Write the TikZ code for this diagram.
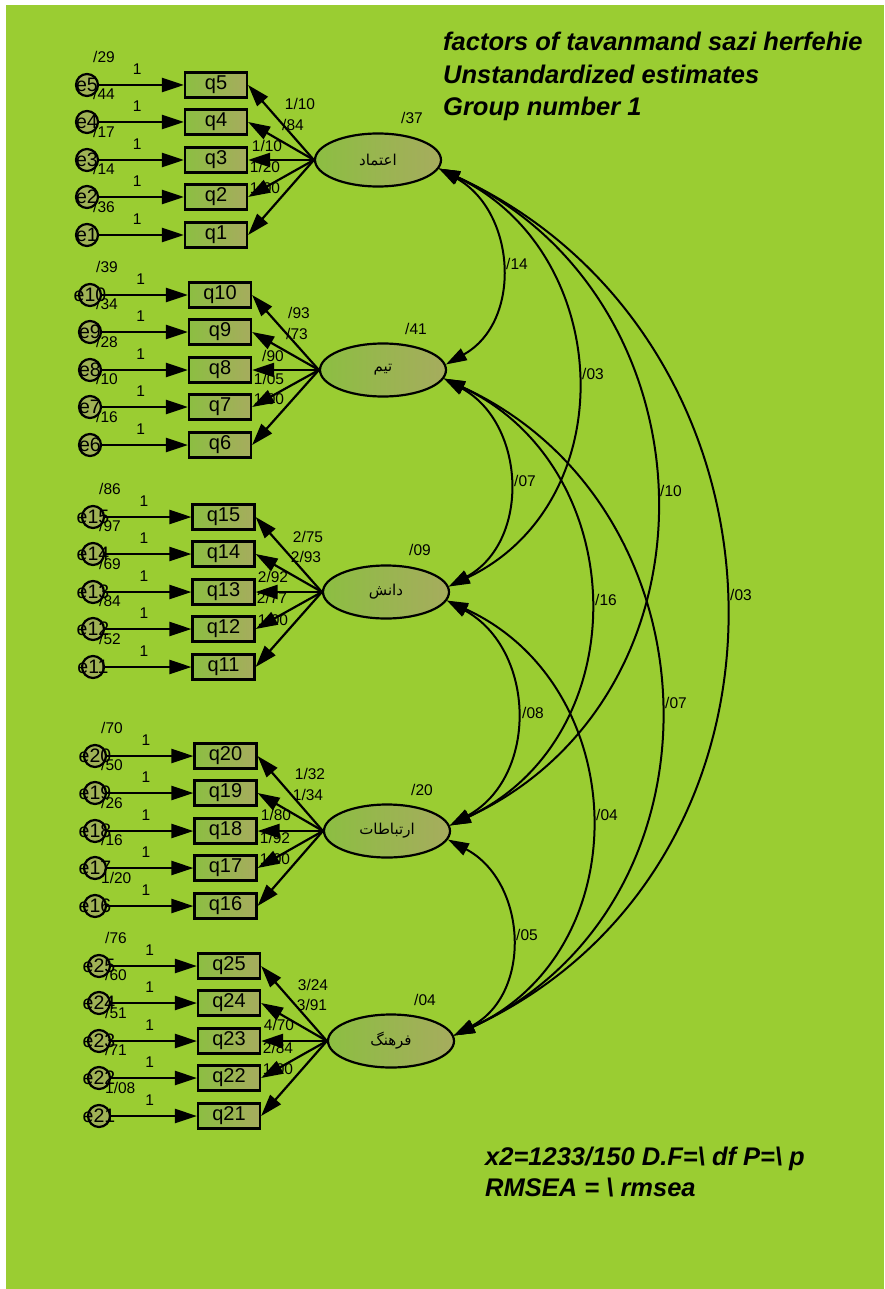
\documentclass[tikz,border=0pt]{standalone}
\usepackage{fontspec}
\setmainfont{Liberation Sans}
\newfontfamily\arfont[Script=Arabic]{DejaVu Sans}
\TeXXeTstate=1
\usetikzlibrary{arrows.meta,shapes.geometric}
\definecolor{bg}{RGB}{154,205,50}
\definecolor{boxL}{RGB}{140,190,66}
\definecolor{boxR}{RGB}{166,172,94}
\definecolor{errfill}{RGB}{160,178,86}
\newcommand{\artext}[1]{{\arfont\beginR #1\endR}}
% one observed item with its error term
% #1 factor node, #2 item number, #3 box x, #4 error x, #5 row y, #6 error variance
\newcommand{\indic}[6]{%
  \node[obs] (q#2) at (#3,#5) {q#2};
  \node[errc] (e#2) at (#4,#5) {};
  \node[etxt] (t#2) at (e#2.center) {e#2};
  \node[lbl,anchor=west] (s#2) at ([xshift=6pt,yshift=28pt]e#2.center) {#6};
  \draw[link] (e#2) -- node[lbl,pos=.45,above=9pt] (w#2) {1} (q#2);
  \draw[link] (#1.west) -- (q#2.east);
}
\begin{document}
\begin{tikzpicture}[x=1pt,y=-1pt,
  obs/.style={draw,rectangle,line width=2.2pt,minimum width=62pt,minimum height=25pt,
    inner sep=0,left color=boxL,right color=boxR,font=\fontsize{20}{21}\selectfont},
  fac/.style={draw,ellipse,line width=2.2pt,minimum width=126pt,minimum height=53pt,
    inner sep=0,left color=boxL,right color=boxR,font=\fontsize{15}{17}\selectfont},
  errc/.style={draw,circle,line width=2.2pt,minimum size=22pt,inner sep=0,fill=errfill},
  etxt/.style={inner sep=0,font=\fontsize{19.5}{21}\selectfont},
  lbl/.style={inner sep=0,font=\fontsize{15.5}{17}\selectfont},
  head/.style={inner sep=0,anchor=base west,font=\fontsize{25.5}{30}\selectfont\bfseries\itshape},
  link/.style={line width=2.2pt,-{Triangle[length=22pt,width=14pt]}},
  cov/.style={line width=2pt,{Triangle[length=21pt,width=13pt]}-{Triangle[length=21pt,width=13pt]}},
]
\useasboundingbox (0,0) rectangle (884,1289);
\fill[white] (0,0) rectangle (884,1289);
\fill[bg] (6,5) rectangle (884,1289);

% factors
\node[fac] (A) at (378,160) {\artext{اعتماد}};
\node[fac] (T) at (383,370) {\artext{تیم}};
\node[fac] (D) at (386,592) {\artext{دانش}};
\node[fac] (R) at (387,831) {\artext{ارتباطات}};
\node[fac] (F) at (391,1041) {\artext{فرهنگ}};
\node[lbl] (vA) at (412,118) {/37};
\node[lbl] (vT) at (416,329) {/41};
\node[lbl] (vD) at (420,550) {/09};
\node[lbl] (vR) at (422,790) {/20};
\node[lbl] (vF) at (425,1000) {/04};

% items of the first factor
\indic{A}{5}{216}{87}{85}{/29}
\indic{A}{4}{216}{87}{122}{/44}
\indic{A}{3}{216}{87}{160}{/17}
\indic{A}{2}{216}{87}{197}{/14}
\indic{A}{1}{216}{87}{235}{/36}
\node[lbl] (lA1) at (300,104) {1/10};
\node[lbl] (lA2) at (293,125) {/84};
\node[lbl] (lA3) at (267,146) {1/10};
\node[lbl] (lA4) at (265,167) {1/20};
\node[lbl] (lA5) at (265,188) {1/00};

% items of the second factor
\indic{T}{10}{220}{90}{295}{/39}
\indic{T}{9}{220}{90}{332}{/34}
\indic{T}{8}{220}{90}{370}{/28}
\indic{T}{7}{220}{90}{407}{/10}
\indic{T}{6}{220}{90}{445}{/16}
\node[lbl] (lT1) at (299,313) {/93};
\node[lbl] (lT2) at (297,334) {/73};
\node[lbl] (lT3) at (273,356) {/90};
\node[lbl] (lT4) at (269,379) {1/05};
\node[lbl] (lT5) at (269,399) {1/00};

% items of the third factor
\indic{D}{15}{223.5}{93}{517}{/86}
\indic{D}{14}{223.5}{93}{554}{/97}
\indic{D}{13}{223.5}{93}{592}{/69}
\indic{D}{12}{223.5}{93}{629}{/84}
\indic{D}{11}{223.5}{93}{667}{/52}
\node[lbl] (lD1) at (308,537) {2/75};
\node[lbl] (lD2) at (306,557) {2/93};
\node[lbl] (lD3) at (273,577) {2/92};
\node[lbl] (lD4) at (272,598) {2/77};
\node[lbl] (lD5) at (273,620) {1/00};

% items of the fourth factor
\indic{R}{20}{225.5}{95}{756}{/70}
\indic{R}{19}{225.5}{95}{793}{/50}
\indic{R}{18}{225.5}{95}{831}{/26}
\indic{R}{17}{225.5}{95}{868}{/16}
\indic{R}{16}{225.5}{95}{906}{1/20}
\node[lbl] (lR1) at (310,774) {1/32};
\node[lbl] (lR2) at (308,795) {1/34};
\node[lbl] (lR3) at (276,815) {1/80};
\node[lbl] (lR4) at (275,838) {1/92};
\node[lbl] (lR5) at (275,859) {1/00};

% items of the fifth factor
\indic{F}{25}{229}{99}{966}{/76}
\indic{F}{24}{229}{99}{1003}{/60}
\indic{F}{23}{229}{99}{1041}{/51}
\indic{F}{22}{229}{99}{1078}{/71}
\indic{F}{21}{229}{99}{1116}{1/08}
\node[lbl] (lF1) at (313,985) {3/24};
\node[lbl] (lF2) at (312,1005) {3/91};
\node[lbl] (lF3) at (279,1025) {4/70};
\node[lbl] (lF4) at (278,1048) {2/84};
\node[lbl] (lF5) at (278,1069) {1/00};

% covariances between factors
\draw[cov] (A.-8) .. controls +(77,43) and +(77,-43) .. (T.5);
\draw[cov] (T.-8) .. controls +(82,45) and +(82,-45) .. (D.5);
\draw[cov] (D.-8) .. controls +(89,49) and +(89,-49) .. (R.5);
\draw[cov] (R.-8) .. controls +(79,42) and +(79,-42) .. (F.5);
\draw[cov] (A.-8) .. controls +(176,84) and +(176,-84) .. (D.5);
\draw[cov] (T.-8) .. controls +(189,89) and +(189,-89) .. (R.5);
\draw[cov] (D.-8) .. controls +(186,85) and +(186,-85) .. (F.5);
\draw[cov] (A.-8) .. controls +(280,130) and +(280,-130) .. (R.5);
\draw[cov] (T.-8) .. controls +(280,129) and +(280,-129) .. (F.5);
\draw[cov] (A.-8) .. controls +(370,171) and +(370,-171) .. (F.5);
\node[lbl] (cAT) at (517,264) {/14};
\node[lbl] (cTD) at (525,481) {/07};
\node[lbl] (cDR) at (533,713) {/08};
\node[lbl] (cRF) at (527,935) {/05};
\node[lbl] (cAD) at (593,374) {/03};
\node[lbl] (cTR) at (606,600) {/16};
\node[lbl] (cDF) at (607,815) {/04};
\node[lbl] (cAR) at (671,491) {/10};
\node[lbl] (cTF) at (676,703) {/07};
\node[lbl] (cAF) at (741,595) {/03};

% heading and fit line
\node[head] (h1) at (443,51) {factors of tavanmand sazi herfehie};
\node[head] (h2) at (443,83.5) {Unstandardized estimates};
\node[head] (h3) at (443,116) {Group number 1};
\node[head] (f1) at (485,1165) {x2=1233/150 D.F=\textbackslash{} df P=\textbackslash{} p};
\node[head] (f2) at (485,1196) {RMSEA = \textbackslash{} rmsea};
\end{tikzpicture}
\end{document}
